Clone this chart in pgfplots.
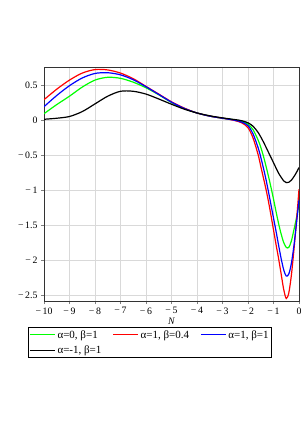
\documentclass[border=0pt]{standalone}
\usepackage{fontspec}
\setmainfont{Liberation Serif}
\usepackage{pgfplots}
\pgfplotsset{compat=1.18}
\definecolor{cgreen}{rgb}{0,1,0}
\definecolor{cred}{rgb}{1,0,0}
\definecolor{cblue}{rgb}{0,0,1}
\begin{document}
\begin{tikzpicture}[x=1pt,y=1pt]
\path[use as bounding box] (-44,-132) rectangle (262,301);
\begin{axis}[
  at={(0pt,0pt)}, anchor=south west,
  scale only axis, width=255pt, height=234pt,
  xmin=-10, xmax=0, ymin=-2.586, ymax=0.757,
  xtick={-10,-9,...,0},
  xticklabels={−\,10,−\,9,−\,8,−\,7,−\,6,−\,5,−\,4,−\,3,−\,2,−\,1,0},
  ytick={-2.5,-2,-1.5,-1,-0.5,0,0.5},
  yticklabels={−\,2.5,−\,2,−\,1.5,−\,1,−\,0.5,0,0.5},
  tick label style={font=\fontsize{9.8}{11}\selectfont},
  tick align=outside, tick pos=left,
  major tick length=3pt,
  grid=major,
  grid style={draw=black!15, line width=0.8pt},
  axis line style={draw=black!80, line width=0.6pt},
  xlabel={\textit{N}}, xlabel style={font=\fontsize{9.8}{11}\selectfont, inner sep=0pt},
  legend columns=3,
  legend cell align=left,
  legend style={at={(-0.0627,-0.111)}, anchor=north west, draw=black, line width=0.6pt,
    font=\fontsize{11}{12}\selectfont, inner sep=1pt, row sep=2pt,
    /tikz/every even column/.append style={column sep=9pt}},
  legend image code/.code={\draw[#1] (0pt,0pt) -- (25pt,0pt);},
  every axis plot/.append style={line width=1.2pt, smooth, mark=none},
]
\addplot[draw=cgreen] coordinates {
(-10,0.09) (-9.5,0.22) (-9,0.34) (-8.5,0.47) (-8,0.57) (-7.5,0.61) (-7,0.595) (-6.5,0.54)
(-6,0.46) (-5.5,0.36) (-5,0.25) (-4.5,0.165) (-4,0.10) (-3.5,0.055) (-3,0.025) (-2.5,0.0)
(-2.25,-0.02) (-2,-0.06) (-1.8,-0.14) (-1.6,-0.29) (-1.5,-0.39) (-1.4,-0.51) (-1.3,-0.65)
(-1.2,-0.8) (-1.1,-0.96) (-1,-1.13) (-0.9,-1.31) (-0.8,-1.48) (-0.7,-1.63) (-0.6,-1.75)
(-0.5,-1.82) (-0.4,-1.82) (-0.3,-1.73) (-0.2,-1.57) (-0.1,-1.4) (0,-1.2)};
\addlegendentry{α=0, β=1}
\addplot[draw=cred] coordinates {
(-10,0.29) (-9.5,0.44) (-9,0.57) (-8.5,0.67) (-8,0.72) (-7.5,0.715) (-7,0.67) (-6.5,0.59)
(-6,0.48) (-5.5,0.37) (-5,0.26) (-4.5,0.17) (-4,0.10) (-3.5,0.055) (-3,0.025) (-2.75,0.01)
(-2.5,-0.01) (-2.25,-0.04) (-2,-0.11) (-1.8,-0.26) (-1.6,-0.5) (-1.5,-0.66) (-1.4,-0.82)
(-1.3,-0.98) (-1.2,-1.16) (-1.1,-1.36) (-1,-1.57) (-0.9,-1.78) (-0.8,-1.98) (-0.7,-2.2)
(-0.6,-2.42) (-0.5,-2.55) (-0.4,-2.47) (-0.3,-2.22) (-0.2,-1.86) (-0.1,-1.45) (0,-0.99)};
\addlegendentry{α=1, β=0.4}
\addplot[draw=cblue] coordinates {
(-10,0.19) (-9.5,0.35) (-9,0.49) (-8.5,0.6) (-8,0.665) (-7.5,0.675) (-7,0.645) (-6.5,0.575)
(-6,0.475) (-5.5,0.365) (-5,0.255) (-4.5,0.165) (-4,0.10) (-3.5,0.055) (-3,0.025) (-2.5,-0.005)
(-2.25,-0.03) (-2,-0.08) (-1.8,-0.2) (-1.6,-0.4) (-1.5,-0.53) (-1.4,-0.68) (-1.3,-0.84)
(-1.2,-1.02) (-1.1,-1.21) (-1,-1.4) (-0.9,-1.59) (-0.8,-1.79) (-0.7,-1.98) (-0.6,-2.14)
(-0.5,-2.23) (-0.4,-2.2) (-0.3,-2.05) (-0.2,-1.8) (-0.1,-1.48) (0,-1.14)};
\addlegendentry{α=1, β=1}
\addplot[draw=black] coordinates {
(-10,0.01) (-9.5,0.025) (-9,0.05) (-8.5,0.12) (-8,0.23) (-7.5,0.34) (-7,0.41) (-6.5,0.41)
(-6,0.37) (-5.5,0.3) (-5,0.225) (-4.5,0.155) (-4,0.10) (-3.5,0.06) (-3,0.03) (-2.5,0.005)
(-2.25,-0.01) (-2,-0.04) (-1.8,-0.09) (-1.6,-0.18) (-1.4,-0.31) (-1.2,-0.46) (-1,-0.61)
(-0.8,-0.76) (-0.6,-0.87) (-0.5,-0.895) (-0.4,-0.89) (-0.3,-0.86) (-0.2,-0.81) (-0.1,-0.75) (0,-0.68)};
\addlegendentry{α=-1, β=1}
\end{axis}
\end{tikzpicture}
\end{document}
